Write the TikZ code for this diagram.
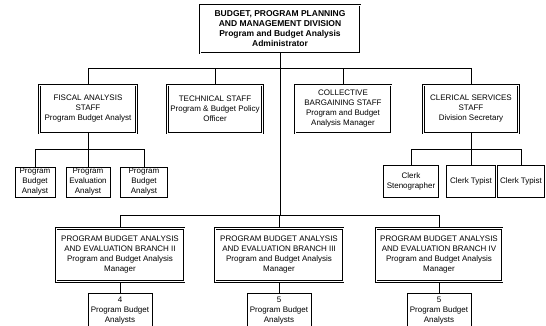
\documentclass[tikz,border=0pt]{standalone}
\usepackage{fontspec}
\setmainfont{Liberation Sans}
\usetikzlibrary{shapes}

\tikzset{
  headbox/.style={draw, double, double distance=0.8pt, line width=0.8pt,
    fill=white, align=center, inner sep=1pt, minimum height=48pt,
    font=\fontsize{8}{10}\selectfont},
  staffbox/.style={draw, line width=0.6pt, fill=white, align=center,
    inner sep=1pt, font=\fontsize{8}{10}\selectfont},
  wire/.style={line width=0.7pt}
}

\begin{document}
\begin{tikzpicture}[x=1pt, y=-1pt]
\path[use as bounding box, clip] (0,0) rectangle (546,325);

% top of the division
\node[headbox, 
   minimum width=160pt, 
   font=\fontsize{8.5}{10}\selectfont\bfseries] (admin) at (280,29) 
  {BUDGET, PROGRAM PLANNING\\AND MANAGEMENT DIVISION\\Program and Budget Analysis\\Administrator};

% staff row
\node[headbox, minimum width=97pt] (fiscal) at (88,109) 
  {FISCAL ANALYSIS\\STAFF\\Program Budget Analyst};
\node[headbox, minimum width=95pt] (technical) at (215,109) 
  {TECHNICAL STAFF\\Program \& Budget Policy\\Officer};
\node[headbox, minimum width=96pt] (collective) at (343,109) 
  {COLLECTIVE\\BARGAINING STAFF\\Program and Budget\\Analysis Manager};
\node[headbox, minimum width=95pt] (clerical) at (471,109) 
  {CLERICAL SERVICES\\STAFF\\Division Secretary};

% fiscal analysts
\node[staffbox, minimum width=40pt, minimum height=30pt] (pbaA) at (35,182) 
  {Program\\Budget\\Analyst};
\node[staffbox, minimum width=44pt, minimum height=30pt] (pea) at (88,182) 
  {Program\\Evaluation\\Analyst};
\node[staffbox, minimum width=47pt, minimum height=30pt] (pbaB) at (144,182) 
  {Program\\Budget\\Analyst};

% clerks
\node[staffbox, minimum width=55pt, minimum height=32pt] (steno) at (411,181) 
  {Clerk\\Stenographer};
\node[staffbox, minimum width=49pt, minimum height=32pt] (typistA) at (471,181) 
  {Clerk Typist};
\node[staffbox, minimum width=47pt, minimum height=32pt] (typistB) at (521,181) 
  {Clerk Typist};

% branches
\node[headbox, minimum width=128pt, minimum height=53pt] (branchII) at (120,255) 
  {PROGRAM BUDGET ANALYSIS\\AND EVALUATION BRANCH II\\Program and Budget Analysis\\Manager};
\node[headbox, minimum width=128pt, minimum height=53pt] (branchIII) at (279,255) 
  {PROGRAM BUDGET ANALYSIS\\AND EVALUATION BRANCH III\\Program and Budget Analysis\\Manager};
\node[headbox, minimum width=126pt, minimum height=53pt] (branchIV) at (439,255) 
  {PROGRAM BUDGET ANALYSIS\\AND EVALUATION BRANCH IV\\Program and Budget Analysis\\Manager};

\node[staffbox, minimum width=64pt, minimum height=36pt] (teamII) at (120,311) 
  {4\\Program Budget\\Analysts};
\node[staffbox, minimum width=64pt, minimum height=36pt] (teamIII) at (279,311) 
  {5\\Program Budget\\Analysts};
\node[staffbox, minimum width=64pt, minimum height=36pt] (teamIV) at (439,311) 
  {5\\Program Budget\\Analysts};

% connectors
\coordinate (staffbus) at (280,68);
\coordinate (branchbus) at (280,215);
\coordinate (fiscalbus) at (88,149);
\coordinate (clerkbus) at (471,149);

\draw[wire] (admin) -- (staffbus);
\foreach \n in {fiscal,technical,collective,clerical}
  \draw[wire] (staffbus) -| (\n);
\draw[wire] (staffbus) -- (branchbus);
\foreach \n in {branchII,branchIII,branchIV}
  \draw[wire] (branchbus) -| (\n);

\draw[wire] (fiscal) -- (fiscalbus);
\foreach \n in {pbaA,pea,pbaB}
  \draw[wire] (fiscalbus) -| (\n);
\draw[wire] (clerical) -- (clerkbus);
\foreach \n in {steno,typistA,typistB}
  \draw[wire] (clerkbus) -| (\n);

\draw[wire] (branchII) -- (teamII);
\draw[wire] (branchIII) -- (teamIII);
\draw[wire] (branchIV) -- (teamIV);
\end{tikzpicture}
\end{document}
